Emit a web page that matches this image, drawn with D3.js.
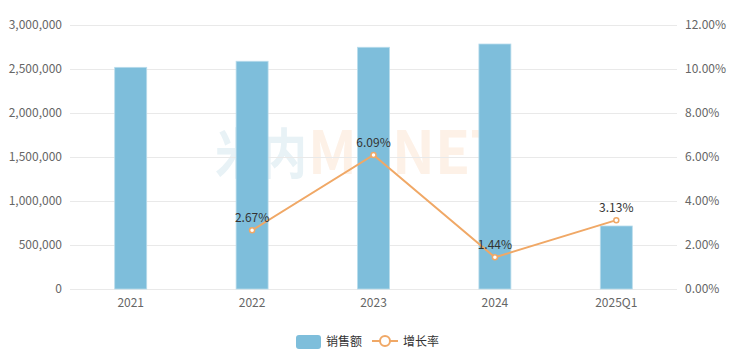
<!DOCTYPE html>
<html>
<head>
<meta charset="utf-8">
<script src="https://cdn.jsdelivr.net/npm/d3@7"></script>
<style>
  body { margin: 0; background: #fff; }
  svg text { font-family: "Noto Sans CJK SC", "Microsoft YaHei", sans-serif; }
</style>
</head>
<body>
<div id="chart"></div>
<script>
const categories = ['2021', '2022', '2023', '2024', '2025Q1']
const sales = [2519000, 2588000, 2747000, 2784000, 716000]
const growth = [null, 2.67, 6.09, 1.44, 3.13]
const leftTicks = [0, 500000, 1000000, 1500000, 2000000, 2500000, 3000000]
const rightTicks = [0, 2, 4, 6, 8, 10, 12]

const width = 735, height = 355
const margin = { top: 25, right: 58, bottom: 66, left: 70 }
const barColor = '#7ebedb'
const lineColor = '#f0a866'

const svg = d3.select('#chart').append('svg')
    .attr('width', width)
    .attr('height', height)

const x = d3.scaleBand()
    .domain(categories)
    .range([margin.left, width - margin.right])

const yL = d3.scaleLinear().domain([0, 3000000]).range([height - margin.bottom, margin.top])
const yR = d3.scaleLinear().domain([0, 12]).range([height - margin.bottom, margin.top])

// watermark
svg.append('text')
    .attr('x', 215).attr('y', 174)
    .attr('textLength', 92)
    .attr('lengthAdjust', 'spacingAndGlyphs')
    .style('font-size', '54px')
    .style('font-weight', 'bold')
    .style('fill', '#e8f2f6')
    .text('米内')
svg.append('text')
    .attr('x', 308).attr('y', 174)
    .attr('textLength', 198)
    .attr('lengthAdjust', 'spacingAndGlyphs')
    .style('font-size', '60px')
    .style('font-weight', 'bold')
    .style('fill', '#fdf1e7')
    .text('MENET')

// gridlines
svg.append('g')
    .selectAll('line')
    .data(leftTicks)
    .enter()
    .append('line')
    .attr('x1', margin.left)
    .attr('x2', width - margin.right)
    .attr('y1', d => yL(d) + 0.5)
    .attr('y2', d => yL(d) + 0.5)
    .style('stroke', '#e9e9e9')
    .style('stroke-width', 1)

// left axis labels
svg.append('g')
    .selectAll('text')
    .data(leftTicks)
    .enter()
    .append('text')
    .attr('x', margin.left - 8)
    .attr('y', d => yL(d) + 4)
    .attr('text-anchor', 'end')
    .style('font-size', '12px')
    .style('fill', '#666')
    .text(d => d3.format(',')(d))

// right axis labels
svg.append('g')
    .selectAll('text')
    .data(rightTicks)
    .enter()
    .append('text')
    .attr('x', width - margin.right + 8)
    .attr('y', d => yR(d) + 4)
    .attr('text-anchor', 'start')
    .style('font-size', '12px')
    .style('fill', '#666')
    .text(d => d.toFixed(2) + '%')

// category labels
svg.append('g')
    .selectAll('text')
    .data(categories)
    .enter()
    .append('text')
    .attr('x', d => x(d) + x.bandwidth() / 2)
    .attr('y', height - margin.bottom + 18)
    .attr('text-anchor', 'middle')
    .style('font-size', '12px')
    .style('fill', '#666')
    .text(d => d)

// bars
const barW = 32
svg.append('g')
    .selectAll('rect')
    .data(sales)
    .enter()
    .append('rect')
    .attr('x', (d, i) => x(categories[i]) + x.bandwidth() / 2 - barW / 2)
    .attr('y', d => yL(d))
    .attr('width', barW)
    .attr('height', d => yL(0) - yL(d))
    .style('fill', barColor)
    .style('stroke', '#b9dcec')
    .style('stroke-width', 0.8)

// growth line
const pts = growth.map((g, i) => ({ cat: categories[i], g })).filter(d => d.g !== null)
const line = d3.line()
    .x(d => x(d.cat) + x.bandwidth() / 2)
    .y(d => yR(d.g))
svg.append('path')
    .datum(pts)
    .attr('d', line)
    .style('fill', 'none')
    .style('stroke', lineColor)
    .style('stroke-width', 2)

svg.append('g')
    .selectAll('circle')
    .data(pts)
    .enter()
    .append('circle')
    .attr('cx', d => x(d.cat) + x.bandwidth() / 2)
    .attr('cy', d => yR(d.g))
    .attr('r', 2.5)
    .style('fill', '#fff')
    .style('stroke', lineColor)
    .style('stroke-width', 1.5)

svg.append('g')
    .selectAll('text')
    .data(pts)
    .enter()
    .append('text')
    .attr('x', d => x(d.cat) + x.bandwidth() / 2)
    .attr('y', d => yR(d.g) - 8)
    .attr('text-anchor', 'middle')
    .style('font-size', '12px')
    .style('fill', '#333')
    .text(d => d.g.toFixed(2) + '%')

// legend
const lg = svg.append('g')
lg.append('rect')
    .attr('x', 296).attr('y', 335)
    .attr('width', 25).attr('height', 14)
    .attr('rx', 3)
    .style('fill', barColor)
lg.append('text')
    .attr('x', 326).attr('y', 346)
    .style('font-size', '12px')
    .style('fill', '#333')
    .text('销售额')
lg.append('line')
    .attr('x1', 372).attr('x2', 398)
    .attr('y1', 341).attr('y2', 341)
    .style('stroke', lineColor)
    .style('stroke-width', 2)
lg.append('circle')
    .attr('cx', 385).attr('cy', 341).attr('r', 5)
    .style('fill', '#fff')
    .style('stroke', lineColor)
    .style('stroke-width', 2)
lg.append('text')
    .attr('x', 403).attr('y', 346)
    .style('font-size', '12px')
    .style('fill', '#333')
    .text('增长率')
</script>
</body>
</html>
